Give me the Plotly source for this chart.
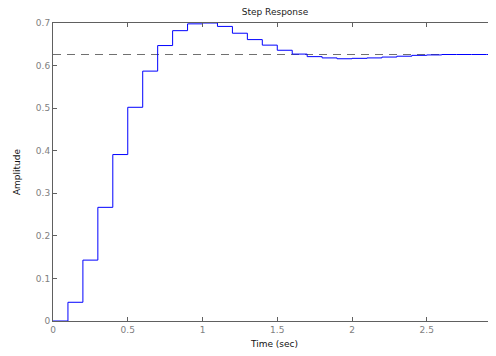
import plotly.graph_objects as go

time_s = [0.0, 0.1, 0.2, 0.3, 0.4, 0.5, 0.6, 0.7, 0.8, 0.9, 1.0, 1.1, 1.2, 1.3, 1.4, 1.5,
          1.6, 1.7, 1.8, 1.9, 2.0, 2.1, 2.2, 2.3, 2.4, 2.5, 2.6, 2.7, 2.8, 2.9, 3.0]
amplitude = [0.0, 0.044, 0.143, 0.267, 0.391, 0.502, 0.587, 0.647, 0.682, 0.698, 0.700,
             0.692, 0.676, 0.661, 0.648, 0.636, 0.627, 0.621, 0.618, 0.616, 0.617,
             0.618, 0.620, 0.622, 0.624, 0.625, 0.626, 0.626, 0.626, 0.626, 0.626]
steady_state = 0.626
x_ticks = [0, 0.5, 1, 1.5, 2, 2.5]
x_tick_labels = ["0", "0.5", "1", "1.5", "2", "2.5"]
y_ticks = [0, 0.1, 0.2, 0.3, 0.4, 0.5, 0.6, 0.7]
y_tick_labels = ["0", "0.1", "0.2", "0.3", "0.4", "0.5", "0.6", "0.7"]

fig = go.Figure()
fig.add_trace(go.Scatter(x=[time_s[0], time_s[-1]], y=[steady_state, steady_state],
                         mode="lines", line=dict(color="#707070", width=1, dash="8px,6px"),
                         hoverinfo="skip", showlegend=False))
fig.add_trace(go.Scatter(x=time_s, y=amplitude, mode="lines", line_shape="hv",
                         line=dict(color="#0000ff", width=1), showlegend=False))

# page body has an 8px default margin, so the figure is offset by 8px
font = "DejaVu Sans, Verdana, sans-serif"
fig.update_layout(
    width=488, height=348,
    margin=dict(l=45, r=0, t=15, b=35, autoexpand=False),
    paper_bgcolor="white", plot_bgcolor="white",
    font=dict(family=font, size=9, color="#000000"),
    title=dict(text="Step Response", x=(275 - 8 - 45) / 443, xanchor="center", xref="paper",
               y=1 - 3.8 / 348, yanchor="middle", font=dict(size=9, color="#222222")),
    xaxis=dict(range=[0, 2.963], tickvals=x_ticks, ticktext=x_tick_labels, automargin=False,
               ticks="inside", ticklen=4, tickcolor="#606060", showgrid=False, zeroline=False,
               showline=True, linecolor="#606060", linewidth=1, mirror="ticks",
               tickfont=dict(size=9, color="#808080"),
               title=dict(text="Time (sec)", font=dict(size=9, color="#111111"), standoff=6)),
    yaxis=dict(range=[0, 0.7], tickvals=y_ticks, ticktext=y_tick_labels, automargin=False,
               ticks="inside", ticklen=4, tickcolor="#606060", showgrid=False, zeroline=False,
               showline=True, linecolor="#606060", linewidth=1,
               tickfont=dict(size=9, color="#808080"),
               title=dict(text="Amplitude", font=dict(size=9, color="#111111"), standoff=13)),
)

fig.write_html("out.html")
